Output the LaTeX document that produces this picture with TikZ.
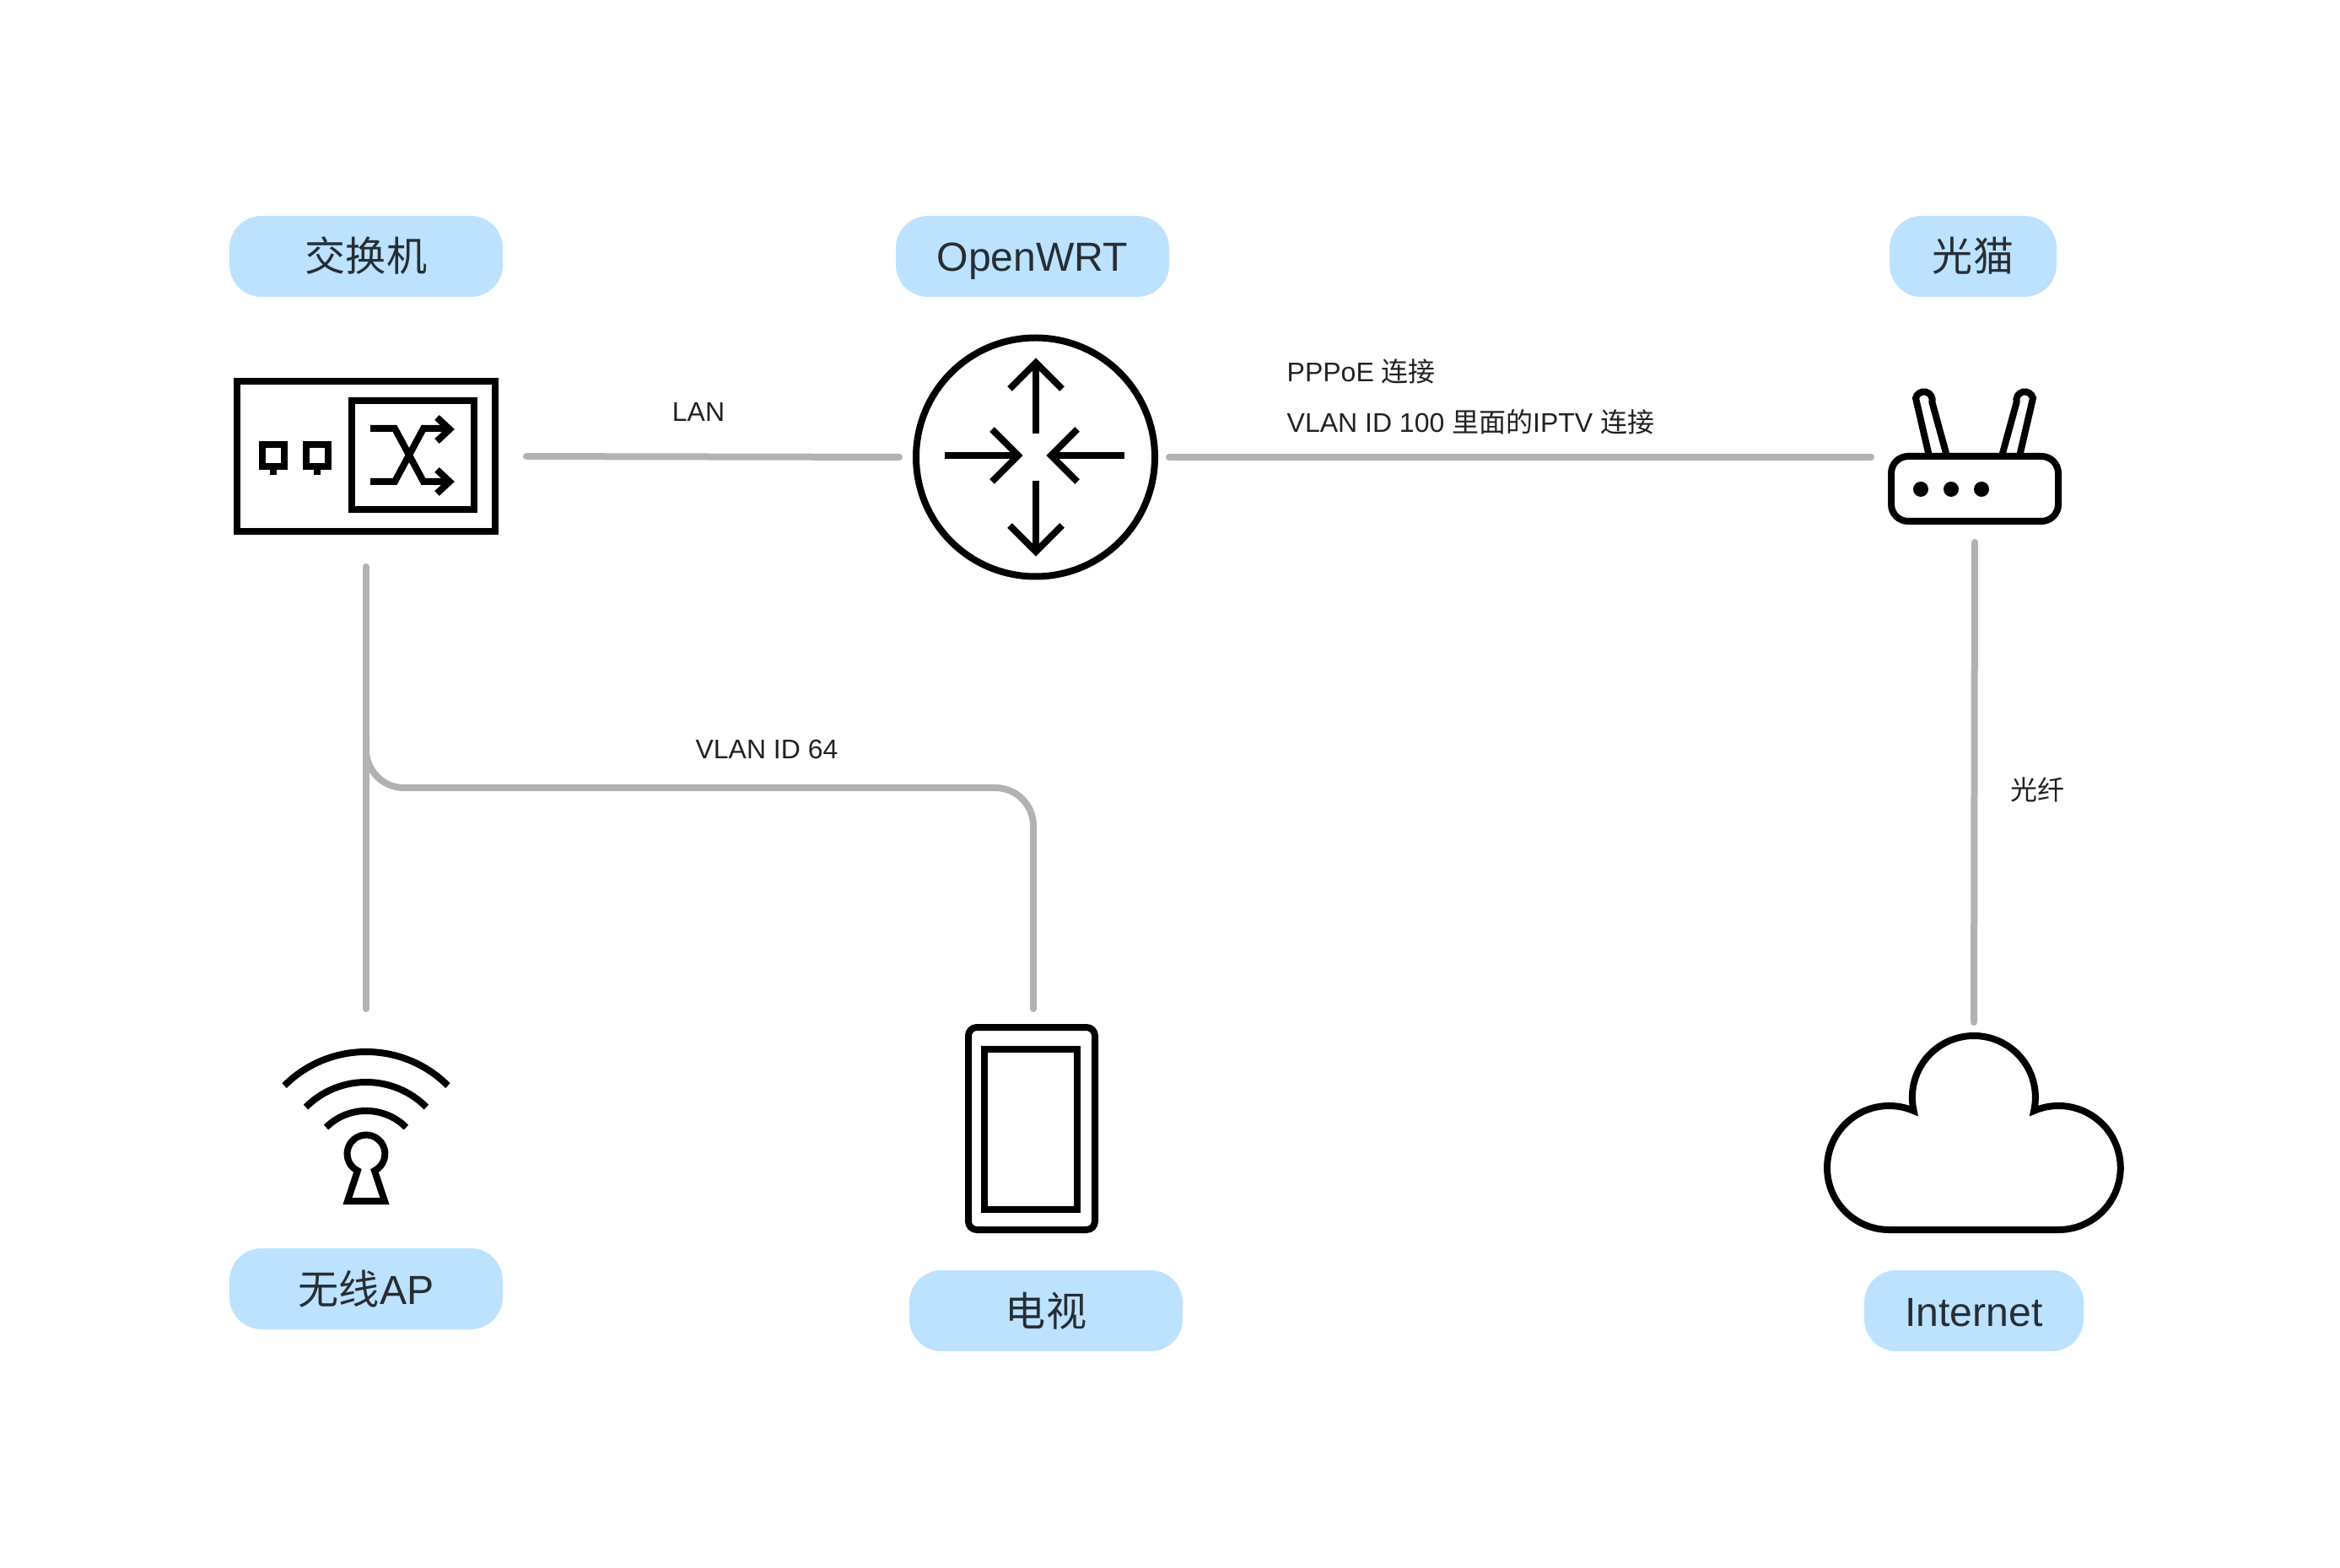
\documentclass[tikz,border=0pt]{standalone}
\usepackage{fontspec}
\setmainfont{Liberation Sans}
\newfontfamily\cjk{Noto Sans CJK SC}
\definecolor{pillblue}{HTML}{BDE2FF}
\definecolor{pilltext}{HTML}{262E35}
\definecolor{linkgray}{HTML}{B2B2B2}
\tikzset{
  pill/.style={fill=pillblue, text=pilltext, rounded corners=0.38cm, minimum height=0.96cm, inner sep=0pt, text height=0.5cm, text depth=0.14cm, font=\fontsize{13.7}{16}\selectfont},
  icon/.style={draw=black, line width=0.08cm, fill=white, inner sep=0pt, miter limit=10},
  stroke/.style={draw=black, line width=0.08cm, miter limit=10},
  link/.style={draw=linkgray, line width=0.08cm, line cap=round},
  note/.style={text=black!87, inner sep=0pt, font=\fontsize{9.1}{11}\selectfont},
}

\begin{document}
\begin{tikzpicture}
    \useasboundingbox (0,0) rectangle (27.74,18.58);
    % labels
    \node[pill, minimum width=3.24cm] (switchlabel) at (4.34,15.54) {\cjk 交换机};
    \node[pill, minimum width=3.24cm] (routerlabel) at (12.24,15.54) {OpenWRT};
    \node[pill, minimum width=1.98cm] (modemlabel) at (23.39,15.54) {\cjk 光猫};
    \node[pill, minimum width=3.24cm] (aplabel) at (4.34,3.30) {{\cjk 无线}AP};
    \node[pill, minimum width=3.24cm] (tvlabel) at (12.40,3.04) {\cjk 电视};
    \node[pill, minimum width=2.60cm] (netlabel) at (23.40,3.04) {Internet};
    % switch
    \node[icon, rectangle, minimum width=3.06cm, minimum height=1.78cm] (switch) at (4.34,13.17) {};
    \draw[stroke] (4.17,12.54) rectangle (5.62,13.83);
    \foreach \x in {3.11,3.63} {
      \draw[stroke] (\x,13.05) rectangle ++(0.26,0.26);
      \draw[stroke] (\x+0.13,13.01) -- ++(0,-0.06);
    }
    \draw[stroke] (4.39,13.50) -- (4.68,13.50) -- (5.02,12.87) -- (5.33,12.87);
    \draw[stroke] (4.39,12.87) -- (4.68,12.87) -- (5.02,13.50) -- (5.33,13.50);
    \foreach \y in {13.49,12.87} {
      \draw[stroke] (5.18,\y+0.14) -- ++(0.15,-0.14) -- ++(-0.15,-0.14);
    }
    % router
    \node[icon, circle, minimum size=2.83cm] (router) at (12.275,13.16) {};
    \draw[stroke] (12.28,13.44) -- (12.28,14.28);
    \draw[stroke] (11.97,13.97) -- (12.28,14.28) -- (12.59,13.97);
    \draw[stroke] (12.28,12.88) -- (12.28,12.04);
    \draw[stroke] (11.97,12.35) -- (12.28,12.04) -- (12.59,12.35);
    \draw[stroke] (11.20,13.18) -- (12.07,13.18);
    \draw[stroke] (11.76,13.49) -- (12.07,13.18) -- (11.76,12.87);
    \draw[stroke] (13.33,13.18) -- (12.46,13.18);
    \draw[stroke] (12.77,13.49) -- (12.46,13.18) -- (12.77,12.87);
    % modem
    \draw[stroke] (22.87,13.17) -- (22.71,13.86) arc[start angle=166,end angle=-14,radius=0.10] -- (23.08,13.17);
    \draw[stroke] (23.94,13.17) -- (24.10,13.86) arc[start angle=14,end angle=194,radius=0.10] -- (23.73,13.17);
    \node[icon, rectangle, rounded corners=0.2cm, minimum width=1.98cm, minimum height=0.77cm] (modem) at (23.41,12.785) {};
    \foreach \x in {22.77,23.13,23.49} {
      \fill (\x,12.78) circle[radius=0.09];
    }
    % ap
    \foreach \r in {1.37,1.01,0.67} {
      \draw[stroke] ([shift={(45:\r)}]4.34,4.74) arc[start angle=45,end angle=135,radius=\r];
    }
    \draw[stroke] (4.44,4.70) arc[start angle=-63.4,end angle=243.4,radius=0.224] -- (4.12,4.34) -- (4.56,4.34) -- cycle;
    \coordinate (ap) at (4.34,6.62);
    % tv
    \node[icon, rectangle, rounded corners=0.1cm, minimum width=1.50cm, minimum height=2.40cm] (tv) at (12.23,5.20) {};
    \draw[stroke] (11.67,4.24) rectangle (12.77,6.14);
    \coordinate (tvtop) at (12.25,6.62);
    % cloud
    \draw[stroke] (22.395,4.00) arc[start angle=270,end angle=66.6,radius=0.735]
      arc[start angle=192.7,end angle=-12.7,radius=0.73]
      arc[start angle=113.4,end angle=-90,radius=0.735] -- cycle;
    \coordinate (cloud) at (23.40,6.30);
    % links
    \draw[link, shorten <=0.33cm, shorten >=0.16cm] (switch.east) -- (router.west);
    \draw[link, shorten <=0.13cm, shorten >=0.20cm] (router.east) -- (router.east -| modem.west);
    \draw[link, shorten <=0.21cm, shorten >=0.16cm] (modem.south) -- (cloud);
    \draw[link, shorten <=0.38cm] (switch.south) -- (ap);
    \coordinate (branch) at (4.34,9.90);
    \coordinate (bend) at (4.34,9.24);
    \draw[link, rounded corners=0.45cm] (branch) -- (bend) -- (tvtop |- bend) -- (tvtop);
    % notes
    \node[note] (lan) at (8.28,13.69) {LAN};
    \node[note, anchor=west] (pppoe) at (15.25,14.18) {PPPoE {\cjk 连接}};
    \node[note, anchor=west] (iptv) at (15.25,13.58) {VLAN ID 100 {\cjk 里面的}IPTV {\cjk 连接}};
    \node[note] (vlan) at (9.09,9.70) {VLAN ID 64};
    \node[note] (fiber) at (24.15,9.22) {\cjk 光纤};
\end{tikzpicture}
\end{document}
